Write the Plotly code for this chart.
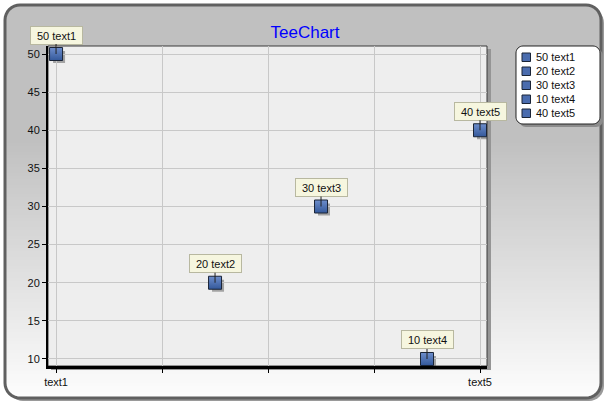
import math
import plotly.graph_objects as go

# ---- data ----
labels = ["text1", "text2", "text3", "text4", "text5"]
xs = [0, 1.5, 2.5, 3.5, 4]
values = [50, 20, 30, 10, 40]
x_tickvals = [0, 1, 2, 3, 4]
x_ticktext = ["text1", "", "", "", "text5"]
y_tickvals = [10, 15, 20, 25, 30, 35, 40, 45, 50]

W, H = 607, 406
FONT = "Liberation Sans"
MARKER_COLOR = "#6e8ecc"


def px(x):
    return x / W


def py(y):
    return 1 - y / H


def rounded_path(x0, y0, x1, y1, r):
    pts = []
    n = 8

    def arc(cx, cy, a0, a1):
        for i in range(n + 1):
            a = a0 + (a1 - a0) * i / n
            pts.append((cx + r * math.cos(a), cy + r * math.sin(a)))
    arc(x0 + r, y0 + r, math.pi, 1.5 * math.pi)
    arc(x1 - r, y0 + r, 1.5 * math.pi, 2 * math.pi)
    arc(x1 - r, y1 - r, 0, 0.5 * math.pi)
    arc(x0 + r, y1 - r, 0.5 * math.pi, math.pi)
    return "M " + " L ".join(f"{px(a):.5f},{py(b):.5f}" for a, b in pts) + " Z"


shapes = []
# panel shadow
shapes.append(dict(type="path", xref="paper", yref="paper", layer="below",
                   path=rounded_path(8, 8, 604, 401, 15),
                   fillcolor="#9a9a9a", line=dict(width=0)))
PX0, PY0, PX1, PY1, R = 5, 5, 601, 398, 15


def inset(y):
    if y < PY0 + R:
        dy = PY0 + R - y
        return R - math.sqrt(max(R * R - dy * dy, 0))
    if y > PY1 - R:
        dy = y - (PY1 - R)
        return R - math.sqrt(max(R * R - dy * dy, 0))
    return 0


def band_color(y):
    g0, g1 = 0xc0, 0xfd
    t0 = 140
    if y <= t0:
        g = g0
    else:
        g = g0 + (g1 - g0) * (y - t0) / (PY1 - t0)
    g = int(round(g))
    return f"rgb({g},{g},{g})"


step = 3
yb = PY0
while yb < PY1:
    ye = min(yb + step, PY1)
    i0, i1 = inset(yb), inset(ye)
    path = (f"M {px(PX0 + i0):.5f},{py(yb):.5f} L {px(PX1 - i0):.5f},{py(yb):.5f} "
            f"L {px(PX1 - i1):.5f},{py(ye + 0.6):.5f} L {px(PX0 + i1):.5f},{py(ye + 0.6):.5f} Z")
    shapes.append(dict(type="path", xref="paper", yref="paper", layer="below",
                       path=path, fillcolor=band_color((yb + ye) / 2), line=dict(width=0)))
    yb = ye
shapes.append(dict(type="path", xref="paper", yref="paper", layer="below",
                   path=rounded_path(PX0, PY0, PX1, PY1, R),
                   fillcolor="rgba(0,0,0,0)", line=dict(color="#606060", width=3)))
# plot area shadow + background
shapes.append(dict(type="rect", xref="paper", yref="paper", layer="below",
                   x0=px(51), x1=px(491), y0=py(370), y1=py(49),
                   fillcolor="#959595", line=dict(width=0)))
shapes.append(dict(type="rect", xref="paper", yref="paper", layer="below",
                   x0=px(48), x1=px(487), y0=py(366), y1=py(46),
                   fillcolor="#eeeeee", line=dict(color="#3a3a3a", width=1)))
# marker shadows (anchored at data points, pixel offsets)
for x, v in zip(xs, values):
    shapes.append(dict(type="rect", xref="x", yref="y", layer="below",
                       xsizemode="pixel", ysizemode="pixel",
                       xanchor=x, yanchor=v,
                       x0=-3, x1=9, y0=-9, y1=3,
                       fillcolor="rgba(70,70,70,0.45)", line=dict(width=0)))

# ---- manual legend ----
LX0, LY0, LX1, LY1 = 516, 46, 600, 124
shapes.append(dict(type="path", xref="paper", yref="paper", layer="above",
                   path=rounded_path(LX0 + 3, LY0 + 3, LX1 + 3, LY1 + 3, 7),
                   fillcolor="#8c8c8c", line=dict(width=0)))
shapes.append(dict(type="path", xref="paper", yref="paper", layer="above",
                   path=rounded_path(LX0, LY0, LX1, LY1, 7),
                   fillcolor="white", line=dict(color="#222222", width=1)))
annotations = []
for i, (v, lab) in enumerate(zip(values, labels)):
    cy = 57 + 14 * i
    shapes.append(dict(type="rect", xref="paper", yref="paper", layer="above",
                       x0=px(522), x1=px(530.5), y0=py(cy + 4.5), y1=py(cy - 4),
                       fillcolor="#4a6cae", line=dict(color="#1a2436", width=1)))
    annotations.append(dict(x=px(534), y=py(cy), xref="paper", yref="paper",
                            xanchor="left", yanchor="middle", showarrow=False,
                            text=f"{v} {lab}",
                            font=dict(family=FONT, size=11, color="#111111")))

fig = go.Figure()
for x, v, lab in zip(xs, values, labels):
    fig.add_trace(go.Scatter(
        x=[x], y=[v], mode="markers", name=f"{v} {lab}",
        marker=dict(symbol="square", size=13, color=MARKER_COLOR,
                    gradient=dict(type="vertical", color="#33589a"),
                    line=dict(color="#1a2436", width=1)),
        hoverinfo="skip", cliponaxis=False, showlegend=False,
    ))

for x, v, lab in zip(xs, values, labels):
    annotations.append(dict(
        x=x, y=v, xref="x", yref="y", text=f"{v} {lab}",
        showarrow=True, arrowhead=0, arrowwidth=1, arrowcolor="#202020",
        ax=0, ay=-19, standoff=0, width=47, height=13,
        bgcolor="#f6f6df", bordercolor="#b8b8a0", borderwidth=1, borderpad=2,
        font=dict(family=FONT, size=11, color="#111111"),
    ))

fig.update_layout(
    width=W, height=H,
    margin=dict(l=0, r=0, t=0, b=0),
    paper_bgcolor="white",
    plot_bgcolor="#eeeeee",
    font=dict(family=FONT, size=11, color="#111111"),
    title=dict(text="TeeChart", x=px(305), y=py(32), xanchor="center", yanchor="middle",
               xref="paper", yref="paper",
               font=dict(family=FONT, size=17, color="#0000ff")),
    showlegend=False,
    xaxis=dict(domain=[px(48), px(487)], range=[-0.076, 4.066],
               tickvals=x_tickvals, ticktext=x_ticktext,
               showgrid=True, gridcolor="#c8c8c8", gridwidth=1,
               zeroline=False, showline=True, linecolor="black", linewidth=3,
               ticks="outside", ticklen=4, tickcolor="black",
               automargin=False, fixedrange=True),
    yaxis=dict(domain=[py(366), py(46)], range=[9.08, 51.05],
               tickvals=y_tickvals,
               showgrid=True, gridcolor="#c8c8c8", gridwidth=1,
               zeroline=False, showline=True, linecolor="black", linewidth=2,
               ticks="outside", ticklen=4, tickcolor="black",
               automargin=False, fixedrange=True),
    shapes=shapes,
    annotations=annotations,
)

fig.write_html("out.html", config={"displayModeBar": False},
               post_script="document.body.style.margin='0px';")
